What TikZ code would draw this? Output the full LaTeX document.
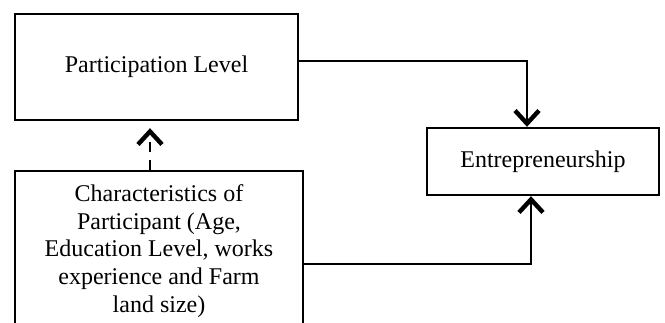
\documentclass[tikz,border=0pt]{standalone}
\usepackage{fontspec}
\setmainfont{Liberation Serif}
\usetikzlibrary{positioning,arrows.meta,calc}
\tikzset{
    x=0.5pt,
    y=-0.5pt,
    block/.style = {
        draw,
        shape=rectangle,
        line width=1.2pt,
        align=center,
        font=\fontsize{12}{13.8}\selectfont
    },
    link/.style = {
        line width=1.1pt
    },
    dashlink/.style = {
        line width=1.1pt,
        dash pattern=on 5pt off 4pt
    },
    >={Straight Barb[length=6.5pt,width=12pt,line width=2.2pt]},
}

\begin{document}
\begin{tikzpicture}
        \useasboundingbox (0,0) rectangle (665,322);
        \node[block, minimum width=141.5pt, minimum height=53pt] (level) at (156.5,67) {Participation Level};
        \node[block, minimum width=116pt, minimum height=33.5pt] (entre) at (543,161.5) {Entrepreneurship};
        \node[block, minimum width=144pt, minimum height=80pt] (chars) at (159,251)
            {Characteristics of\\ Participant (Age,\\ Education Level, works\\ experience and Farm\\ land size)};

        \path[draw, link, ->] (level.east |- 0,61) -| ([xshift=-8pt]entre.north);
        \path[draw, link, ->] (chars.east |- 0,264) -| ([xshift=-6pt]entre.south);
        \path[draw, dashlink, ->, shorten >=3.5pt] (chars.north -| 150,0) -- (level.south -| 150,0);
    \end{tikzpicture}
\end{document}
